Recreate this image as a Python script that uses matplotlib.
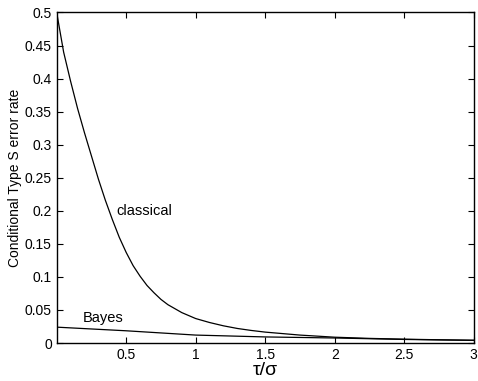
import numpy as np
import matplotlib
matplotlib.use('Agg')
import matplotlib.pyplot as plt

# values
tau_classical = [0, 0.05, 0.1, 0.15, 0.2, 0.25, 0.3, 0.35, 0.4, 0.45, 0.5, 0.55,
                 0.6, 0.65, 0.7, 0.75, 0.8, 0.9, 1.0, 1.1, 1.2, 1.3, 1.4, 1.5,
                 1.75, 2.0, 2.25, 2.5, 2.75, 3.0]
rate_classical = [0.5, 0.44, 0.396, 0.355, 0.318, 0.283, 0.248, 0.216, 0.187, 0.160,
                  0.137, 0.117, 0.101, 0.087, 0.076, 0.066, 0.058, 0.046, 0.037,
                  0.031, 0.026, 0.022, 0.019, 0.0165, 0.012, 0.0088, 0.007, 0.0058,
                  0.0049, 0.0042]

tau_bayes = [0, 0.5, 1.0, 1.5, 2.0, 2.5, 3.0]
rate_bayes = [0.024, 0.0185, 0.012, 0.0092, 0.0076, 0.0054, 0.004]

xticks = [0.5, 1, 1.5, 2, 2.5, 3]
xtick_labels = ['0.5', '1', '1.5', '2', '2.5', '3']
yticks = [0, 0.05, 0.1, 0.15, 0.2, 0.25, 0.3, 0.35, 0.4, 0.45, 0.5]
ytick_labels = ['0', '0.05', '0.1', '0.15', '0.2', '0.25', '0.3', '0.35', '0.4', '0.45', '0.5']

plt.rcParams['font.family'] = ['Liberation Sans', 'DejaVu Sans']

fig = plt.figure(figsize=(4.78, 3.81), dpi=100)
ax = fig.add_axes([0.1186, 0.0997, 0.8724, 0.8675])

ax.plot(tau_classical, rate_classical, color='k', linewidth=0.9)
ax.plot(tau_bayes, rate_bayes, color='k', linewidth=0.9)

ax.text(0.43, 0.2, 'classical', fontsize=10.5, ha='left', va='center')
ax.text(0.19, 0.038, 'Bayes', fontsize=10.5, ha='left', va='center')

ax.set_xlim(0, 3)
ax.set_ylim(0, 0.5)
ax.set_xticks(xticks)
ax.set_xticklabels(xtick_labels)
ax.set_yticks(yticks)
ax.set_yticklabels(ytick_labels)
ax.tick_params(direction='in', top=True, right=True, labelsize=10, length=4, width=0.8)
for s in ax.spines.values():
    s.set_linewidth(1.0)

ax.set_xlabel('τ/σ', fontsize=14, labelpad=0)
ax.set_ylabel('Conditional Type S error rate', fontsize=10, labelpad=2)

fig.savefig('out.png', dpi=100)
